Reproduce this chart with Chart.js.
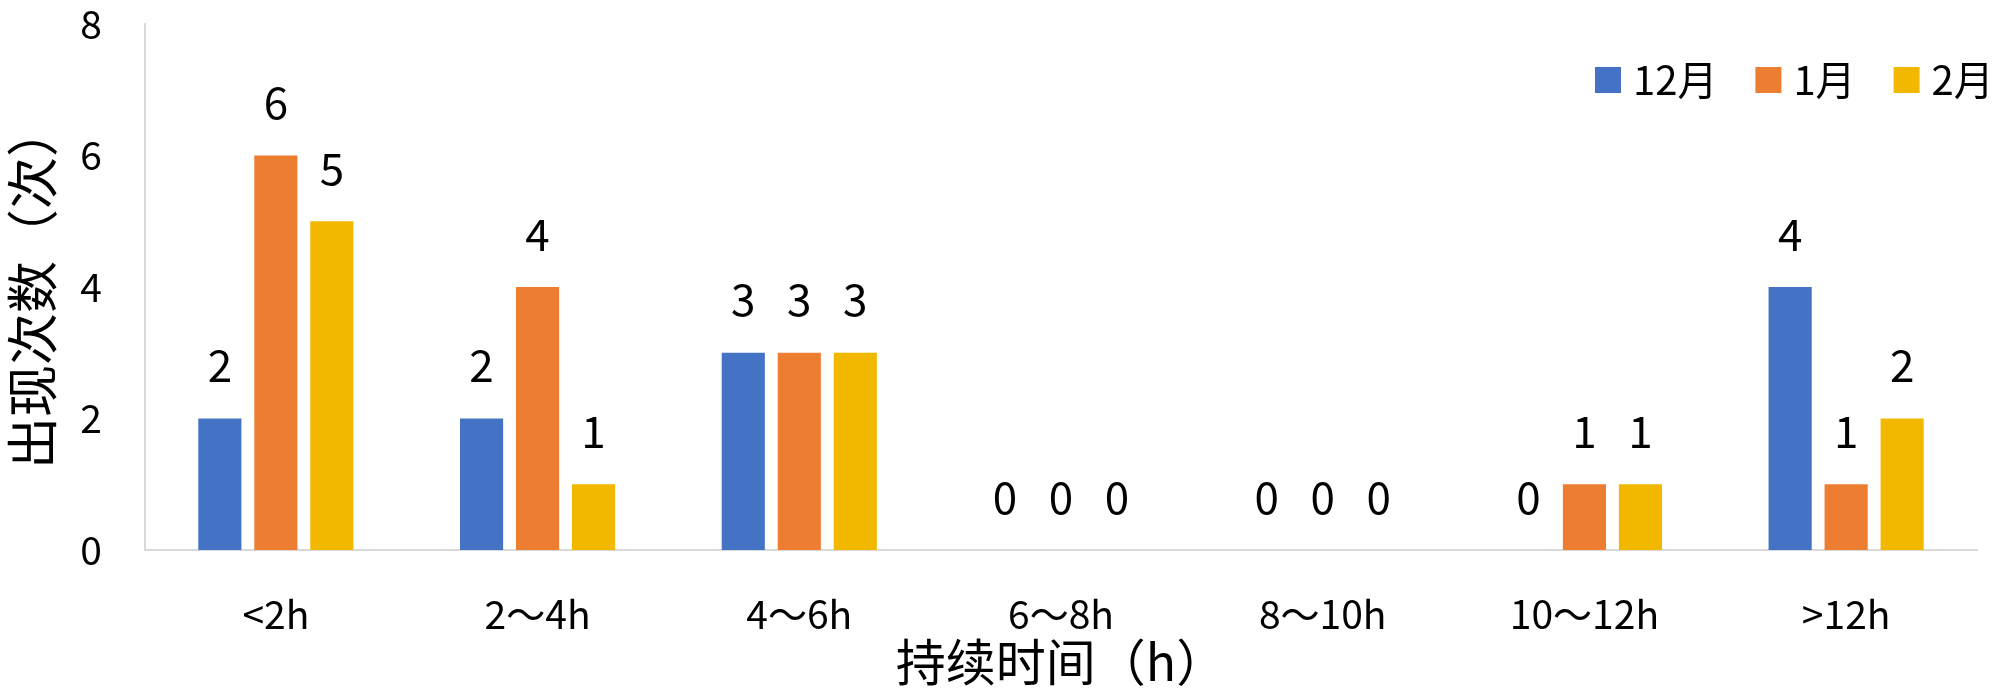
<!DOCTYPE html>
<html>
<head>
<meta charset="utf-8">
<script src="https://cdn.jsdelivr.net/npm/chart.js@4/dist/chart.umd.min.js"></script>
<style>
    html, body { margin: 0; padding: 0; background: #fff; }
    #wrap { width: 2000px; height: 696px; }
</style>
</head>
<body>
<div id="wrap"><canvas id="grafico"></canvas></div>
<script>
// dados
const categorias = ['<2h', '2～4h', '4～6h', '6～8h', '8～10h', '10～12h', '>12h'];
const dezembro = [2, 2, 3, 0, 0, 0, 4];
const janeiro = [6, 4, 3, 0, 0, 1, 1];
const fevereiro = [5, 1, 3, 0, 0, 1, 2];
const nomesSeries = ['12月', '1月', '2月'];
const ticksY = [0, 2, 4, 6, 8];

const fonte = '"Noto Sans CJK SC", "Noto Sans", sans-serif';
const cores = ['#4472C4', '#ED7D31', '#F2B800'];

// rótulos de valor acima das barras
const rotulosValor = {
    id: 'rotulosValor',
    afterDatasetsDraw(chart) {
        const ctx = chart.ctx;
        ctx.save();
        ctx.font = `44px ${fonte}`;
        ctx.fillStyle = '#000';
        ctx.textAlign = 'center';
        ctx.textBaseline = 'middle';
        chart.data.datasets.forEach((ds, i) => {
            chart.getDatasetMeta(i).data.forEach((bar, j) => {
                ctx.fillText(String(ds.data[j]), bar.x, bar.y - 53);
            });
        });
        ctx.restore();
    }
};

// legenda dentro da área do gráfico, canto superior direito
const legendaInterna = {
    id: 'legendaInterna',
    afterDraw(chart) {
        const ctx = chart.ctx;
        const area = chart.chartArea;
        const caixa = 26;
        let x = area.right - 382;
        const y = area.top + 56;
        ctx.save();
        ctx.font = `40px ${fonte}`;
        ctx.textAlign = 'left';
        ctx.textBaseline = 'middle';
        chart.data.datasets.forEach((ds) => {
            ctx.fillStyle = ds.backgroundColor;
            ctx.fillRect(x, y - caixa / 2, caixa, caixa);
            ctx.fillStyle = '#000';
            ctx.fillText(ds.label, x + caixa + 12, y);
            x += caixa + 12 + ctx.measureText(ds.label).width + 38;
        });
        ctx.restore();
    }
};

const series = [dezembro, janeiro, fevereiro];
const datasets = series.map((dados, i) => ({
    label: nomesSeries[i],
    data: dados,
    backgroundColor: cores[i],
    borderWidth: 0,
    categoryPercentage: 0.642,
    barPercentage: 0.77
}));

const ctx = document.getElementById('grafico').getContext('2d');
new Chart(ctx, {
    type: 'bar',
    data: { labels: categorias, datasets: datasets },
    options: {
        responsive: true,
        maintainAspectRatio: false,
        animation: false,
        layout: { padding: { left: 0, right: 23, top: 0, bottom: 0 } },
        plugins: {
            tooltip: { enabled: false },
            legend: { display: false }
        },
        scales: {
            x: {
                grid: { display: false, drawTicks: false },
                border: { display: true, color: '#D9D9D9', width: 2 },
                ticks: {
                    font: { family: fonte, size: 39 },
                    color: '#000',
                    padding: 41,
                    maxRotation: 0,
                    autoSkip: false
                },
                title: {
                    display: true,
                    text: '持续时间（h）',
                    font: { family: fonte, size: 50 },
                    color: '#000',
                    padding: { top: 0, bottom: 4 }
                },
                afterFit: (axis) => {
                    axis.height = 146;
                    axis.paddingLeft = 0;
                    axis.paddingRight = 0;
                }
            },
            y: {
                min: 0,
                max: 8,
                afterBuildTicks: (axis) => { axis.ticks = ticksY.map(v => ({ value: v })); },
                grid: { display: false, drawTicks: false },
                border: { display: true, color: '#D9D9D9', width: 2 },
                ticks: {
                    font: { family: fonte, size: 39 },
                    color: '#000',
                    padding: 43
                },
                title: {
                    display: true,
                    text: '出现次数（次）',
                    font: { family: fonte, size: 52 },
                    color: '#000',
                    padding: { top: 1, bottom: 0 }
                },
                afterFit: (axis) => {
                    axis.width = 145;
                    axis.paddingTop = 24;
                    axis.paddingBottom = 0;
                }
            }
        }
    },
    plugins: [rotulosValor, legendaInterna]
});
</script>
</body>
</html>
